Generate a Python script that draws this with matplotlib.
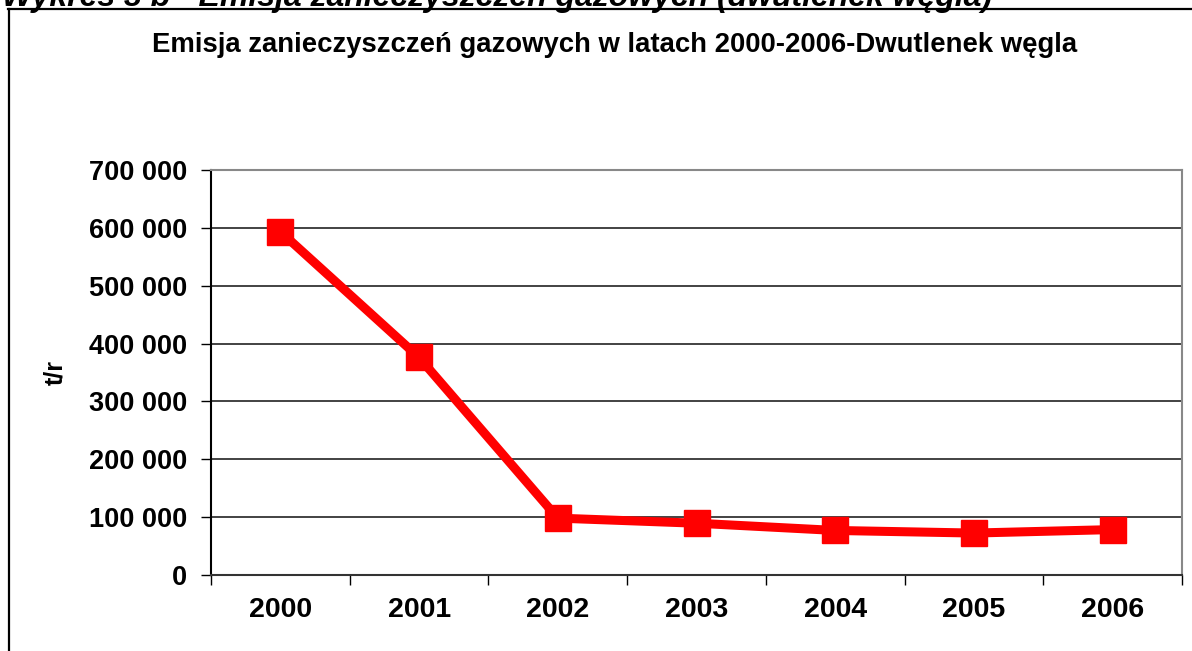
import matplotlib.pyplot as plt
from matplotlib.lines import Line2D
from matplotlib.ticker import FuncFormatter

# data
years = ['2000', '2001', '2002', '2003', '2004', '2005', '2006']
emission = [593500, 376000, 98300, 89500, 77000, 72500, 78500]

plt.rcParams['font.family'] = ['Liberation Sans', 'DejaVu Sans']

fig = plt.figure(figsize=(11.92, 6.51), dpi=100)
W, H = 1192, 651

# header of the page (cut off at the top)
fig.text(2 / W, 1 - 6 / H, 'Wykres 3 b - Emisja zanieczyszczeń gazowych (dwutlenek węgla)',
         fontsize=23, fontweight='bold', fontstyle='italic', ha='left', va='baseline')

# chart frame
fig.add_artist(Line2D([8 / W, 1.0], [1 - 9 / H, 1 - 9 / H], color='black', lw=1.6,
                      transform=fig.transFigure))
fig.add_artist(Line2D([9 / W, 9 / W], [0, 1 - 9 / H], color='black', lw=1.6,
                      transform=fig.transFigure))

fig.text(615 / W, 1 - 45 / H, 'Emisja zanieczyszczeń gazowych w latach 2000-2006-Dwutlenek węgla',
         fontsize=19.8, fontweight='bold', ha='center', va='center')

ax = fig.add_axes([211 / W, 1 - 575 / H, (1182 - 211) / W, (575 - 170) / H])
x = list(range(len(years)))
ax.plot(x, emission, color='#ff0000', lw=6.5, marker='s', markersize=18.5,
        markerfacecolor='#ff0000', markeredgecolor='#ff0000', zorder=3)

ax.set_xlim(-0.5, len(years) - 0.5)
ax.set_ylim(0, 700000)
ax.set_yticks(range(0, 700001, 100000))
ax.yaxis.set_major_formatter(FuncFormatter(lambda v, p: f'{int(v):,}'.replace(',', ' ')))
ax.set_xticks(x)
ax.set_xticklabels(years)
ax.set_xticks([i - 0.5 for i in range(len(years) + 1)], minor=True)
ax.tick_params(axis='x', which='major', length=0, pad=16, labelsize=20.5)
ax.tick_params(axis='x', which='minor', length=7, width=1, color='black', direction='out')
ax.tick_params(axis='y', length=7, width=1, pad=10, labelsize=19.5)
for lab in ax.get_xticklabels() + ax.get_yticklabels():
    lab.set_fontweight('bold')

ax.grid(axis='y', color='#222222', lw=1.2)
ax.set_axisbelow(True)
ax.spines['left'].set_color('black')
ax.spines['left'].set_linewidth(1.5)
ax.spines['bottom'].set_color('#333333')
ax.spines['bottom'].set_linewidth(1.5)
ax.spines['top'].set_color('#888888')
ax.spines['top'].set_linewidth(1.5)
ax.spines['right'].set_color('#888888')
ax.spines['right'].set_linewidth(1.5)

ax.set_ylabel('t/r', fontsize=18, fontweight='bold', labelpad=16)

fig.savefig('out.png', dpi=100)
